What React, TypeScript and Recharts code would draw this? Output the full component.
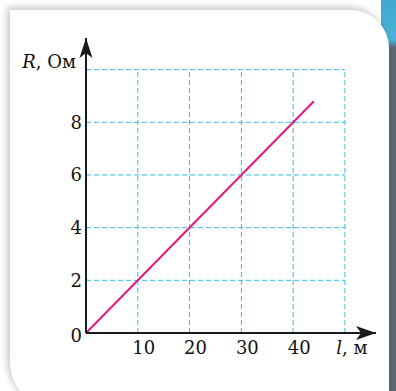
import React from "react";
import {
  LineChart,
  Line,
  XAxis,
  YAxis,
  ReferenceLine,
  ReferenceDot,
} from "recharts";

// R(l) of a wire: straight line through the origin
const lengths = [0, 44];
const resistances = [0, 8.8];
const xTicks = [10, 20, 30, 40];
const yTicks = [0, 2, 4, 6, 8];
const gridCols = [10, 20, 30, 40, 50];
const gridRows = [2, 4, 6, 8, 10];

const data = lengths.map((l, i) => ({ l, R: resistances[i] }));

const FONT = "'DejaVu Serif', 'Liberation Serif', serif";
const GRID = "#35b8ea";
const AXIS = "#1a1a1a";
const TEXT = "#111";

const XTick = (props: any) => {
  const { x, y, payload } = props;
  return (
    <text x={x + 6} y={y + 21} textAnchor="middle" fontFamily={FONT} fontSize={18} fill={TEXT}>
      {payload.value}
    </text>
  );
};

const YTick = (props: any) => {
  const { x, y, payload } = props;
  return (
    <text x={x} y={y + (payload.value === 0 ? 9 : 6.5)} textAnchor="end" fontFamily={FONT} fontSize={18} fill={TEXT}>
      {payload.value}
    </text>
  );
};

const ArrowUp = (props: any) => {
  const { cx, cy } = props;
  return (
    <path
      d={`M${cx},${cy} L${cx + 6.5},${cy + 20} L${cx},${cy + 15} L${cx - 6.5},${cy + 20} Z`}
      fill={AXIS}
    />
  );
};

const ArrowRight = (props: any) => {
  const { cx, cy } = props;
  return (
    <path
      d={`M${cx},${cy} L${cx - 20},${cy - 7} L${cx - 15},${cy} L${cx - 20},${cy + 7} Z`}
      fill={AXIS}
    />
  );
};

const YTitle = (props: any) => {
  const { cx, cy } = props;
  return (
    <text x={cx - 10} y={cy - 2} textAnchor="end" fontFamily={FONT} fontSize={18} fill={TEXT}>
      <tspan fontStyle="italic">R</tspan>, Ом
    </text>
  );
};

const XTitle = (props: any) => {
  const { cx, cy } = props;
  return (
    <text x={cx + 7} y={cy + 21} textAnchor="middle" fontFamily={FONT} fontSize={18} fill={TEXT}>
      <tspan fontStyle="italic">l</tspan>, м
    </text>
  );
};

export default function App() {
  return (
    <div style={{ position: "absolute", left: 0, top: 0, width: 396, height: 391, background: "#fff", overflow: "hidden" }}>
      <div
        style={{
          position: "absolute",
          left: 381,
          top: 0,
          width: 15,
          height: 391,
          background: "linear-gradient(to bottom, #3fa9cf 0px, #4bb3d6 40px, #5a6870 48px, #5a6870 391px)",
        }}
      />
      <div
        style={{
          position: "absolute",
          left: 10,
          top: 10,
          width: 379,
          height: 400,
          background: "#fff",
          borderRadius: "0 38px 0 48px",
          boxShadow: "-3px -3px 7px rgba(0,0,0,0.22)",
        }}
      />
      <div style={{ position: "absolute", left: 0, top: 0 }}>
        <LineChart width={396} height={391} data={data} margin={{ top: 38, right: 20, bottom: 0, left: 0 }}>
          <XAxis
            dataKey="l"
            type="number"
            domain={[0, 56]}
            ticks={xTicks}
            allowDataOverflow
            height={58}
            axisLine={{ stroke: AXIS, strokeWidth: 2 }}
            tickLine={false}
            tickSize={0}
            tickMargin={0}
            tick={<XTick />}
          />
          <YAxis
            type="number"
            domain={[0, 11.2]}
            ticks={yTicks}
            allowDataOverflow
            width={86}
            axisLine={{ stroke: AXIS, strokeWidth: 2 }}
            tickLine={false}
            tickSize={0}
            tickMargin={4}
            tick={<YTick />}
          />
          {gridRows.map((r) => (
            <ReferenceLine
              key={"r" + r}
              segment={[{ x: 0, y: r }, { x: 50, y: r }]}
              stroke={GRID}
              strokeWidth={1}
              strokeDasharray="5 3"
            />
          ))}
          {gridCols.map((c) => (
            <ReferenceLine
              key={"c" + c}
              segment={[{ x: c, y: 0 }, { x: c, y: 10 }]}
              stroke={GRID}
              strokeWidth={1}
              strokeDasharray="5 3"
            />
          ))}
          <Line
            dataKey="R"
            type="linear"
            stroke="#e5157f"
            strokeWidth={2}
            dot={false}
            isAnimationActive={false}
          />
          <ReferenceDot x={0} y={11.2} r={0} ifOverflow="visible" shape={<ArrowUp />} />
          <ReferenceDot x={56} y={0} r={0} ifOverflow="visible" shape={<ArrowRight />} />
          <ReferenceDot x={0} y={10} r={0} ifOverflow="visible" shape={<YTitle />} />
          <ReferenceDot x={50} y={0} r={0} ifOverflow="visible" shape={<XTitle />} />
        </LineChart>
      </div>
    </div>
  );
}
